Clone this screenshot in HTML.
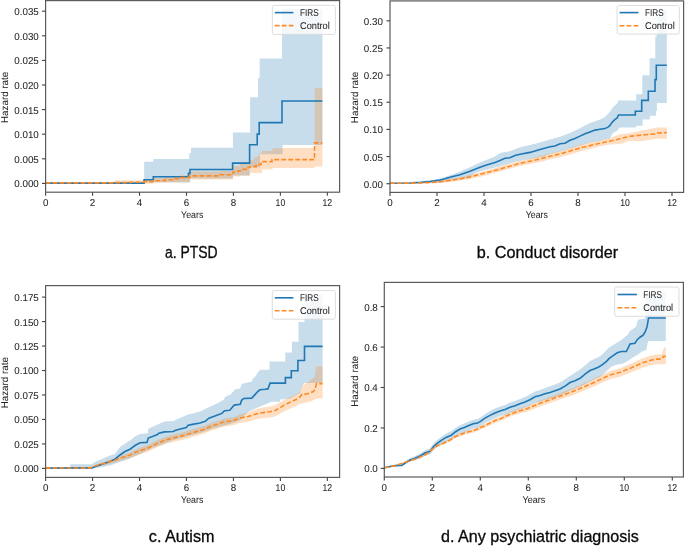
<!DOCTYPE html><html><head><meta charset="utf-8"><style>
html,body{margin:0;padding:0;background:#fff;width:685px;height:546px;overflow:hidden}
svg{display:block;filter:blur(0.35px)} .tk{font-family:"Liberation Sans", sans-serif;font-size:9.85px;text-rendering:geometricPrecision;fill:#262626;stroke:#262626;stroke-width:0.05px} .cap{font-family:"Liberation Sans", sans-serif;font-size:16.1px;fill:#0a0a0a;stroke:#0a0a0a;stroke-width:0.3px}
</style></head><body>
<svg width="685" height="546" viewBox="0 0 685 546">
<rect width="685" height="546" fill="#fff"/>
<clipPath id="ca"><rect x="45.60" y="0.60" width="294.00" height="191.60"/></clipPath>
<g clip-path="url(#ca)">
<path d="M144.1,183 V161.8 H153.3 V159.1 H189.2 V153.3 H191 V147.8 H232.9 V132.6 H250.1 V97.2 H258 V78 H259.6 V58.4 H282 V9.0 H322.4 V145 H282.6 V154.3 H260 V167.5 H249.6 V175.4 H233 V178.5 H190 V182.3 H144.1 Z" fill="#1f77b4" fill-opacity="0.25"/>
<path d="M114.7,183.6 V180.3 H144 V179.8 H153 V178 H165 V177 H180 V175.4 H190 V171.6 H220 V170.7 H233 V166.1 H240 V162 H249.6 V160.2 H253.7 V157.5 H257.4 V155.6 H259.7 V152.9 H262 V151 H272.5 V148.3 H282.6 V147.9 H314.7 V88 H322.3 V166.4 H314.7 V168 H272.5 V169.4 H262 V173 H250 V175.8 H240 V176.6 H233 V179.4 H190 V182.4 H153 V183.7 H114.7 Z" fill="#ff7f0e" fill-opacity="0.25"/>
<path d="M45.6,183.1 H144.1 V179.8 H153.3 V176.7 H188.5 V173.4 H190 V169.5 H232.6 V163.1 H249.6 V144.7 H257.2 V134.1 H259.2 V122.6 H282 V101 H322.4" fill="none" stroke="#1f77b4" stroke-width="1.6"/>
<path d="M45.6,182.9 H114.7 V182.6 H130 V182.2 H144 V181.6 H153 V180.7 H165 V179.8 H175 V178.6 H180 V177.6 H188.5 V177.1 H190 V175.9 H220 V174.8 H233 V172 H238 V170.8 H243 V169.4 H248 V167.5 H250 V166.6 H256 V165.6 H258 V164.6 H261 V162 H263 V161.6 H272 V159.6 H314.5 V142.9 H322.3" fill="none" stroke="#ff8a24" stroke-width="1.6" stroke-dasharray="4.8 2.2"/>
</g>
<rect x="45.60" y="0.60" width="294.00" height="191.60" fill="none" stroke="#5a5a5a" stroke-width="1.2"/>
<line x1="42.00" y1="183.40" x2="45.60" y2="183.40" stroke="#4a4a4a" stroke-width="1.15"/>
<text transform="translate(38.80,187.35) scale(0.995,1)" class="tk" text-anchor="end">0.000</text>
<line x1="42.00" y1="158.80" x2="45.60" y2="158.80" stroke="#4a4a4a" stroke-width="1.15"/>
<text transform="translate(38.80,162.75) scale(0.995,1)" class="tk" text-anchor="end">0.005</text>
<line x1="42.00" y1="134.20" x2="45.60" y2="134.20" stroke="#4a4a4a" stroke-width="1.15"/>
<text transform="translate(38.80,138.15) scale(0.995,1)" class="tk" text-anchor="end">0.010</text>
<line x1="42.00" y1="109.60" x2="45.60" y2="109.60" stroke="#4a4a4a" stroke-width="1.15"/>
<text transform="translate(38.80,113.55) scale(0.995,1)" class="tk" text-anchor="end">0.015</text>
<line x1="42.00" y1="85.00" x2="45.60" y2="85.00" stroke="#4a4a4a" stroke-width="1.15"/>
<text transform="translate(38.80,88.95) scale(0.995,1)" class="tk" text-anchor="end">0.020</text>
<line x1="42.00" y1="60.40" x2="45.60" y2="60.40" stroke="#4a4a4a" stroke-width="1.15"/>
<text transform="translate(38.80,64.35) scale(0.995,1)" class="tk" text-anchor="end">0.025</text>
<line x1="42.00" y1="35.80" x2="45.60" y2="35.80" stroke="#4a4a4a" stroke-width="1.15"/>
<text transform="translate(38.80,39.75) scale(0.995,1)" class="tk" text-anchor="end">0.030</text>
<line x1="42.00" y1="11.20" x2="45.60" y2="11.20" stroke="#4a4a4a" stroke-width="1.15"/>
<text transform="translate(38.80,15.15) scale(0.995,1)" class="tk" text-anchor="end">0.035</text>
<line x1="45.60" y1="192.20" x2="45.60" y2="195.80" stroke="#4a4a4a" stroke-width="1.15"/>
<text transform="translate(45.60,206.30) scale(0.995,1)" class="tk" text-anchor="middle">0</text>
<line x1="92.56" y1="192.20" x2="92.56" y2="195.80" stroke="#4a4a4a" stroke-width="1.15"/>
<text transform="translate(92.56,206.30) scale(0.995,1)" class="tk" text-anchor="middle">2</text>
<line x1="139.52" y1="192.20" x2="139.52" y2="195.80" stroke="#4a4a4a" stroke-width="1.15"/>
<text transform="translate(139.52,206.30) scale(0.995,1)" class="tk" text-anchor="middle">4</text>
<line x1="186.48" y1="192.20" x2="186.48" y2="195.80" stroke="#4a4a4a" stroke-width="1.15"/>
<text transform="translate(186.48,206.30) scale(0.995,1)" class="tk" text-anchor="middle">6</text>
<line x1="233.44" y1="192.20" x2="233.44" y2="195.80" stroke="#4a4a4a" stroke-width="1.15"/>
<text transform="translate(233.44,206.30) scale(0.995,1)" class="tk" text-anchor="middle">8</text>
<line x1="280.40" y1="192.20" x2="280.40" y2="195.80" stroke="#4a4a4a" stroke-width="1.15"/>
<text transform="translate(280.40,206.30) scale(0.88,1)" class="tk" text-anchor="middle">10</text>
<line x1="327.36" y1="192.20" x2="327.36" y2="195.80" stroke="#4a4a4a" stroke-width="1.15"/>
<text transform="translate(327.36,206.30) scale(0.88,1)" class="tk" text-anchor="middle">12</text>
<text x="192.20" y="218.00" class="tk" text-anchor="middle" textLength="22.20" lengthAdjust="spacingAndGlyphs">Years</text>
<text transform="translate(8.40,97.40) rotate(-90)" text-anchor="middle" class="tk" textLength="51.30" lengthAdjust="spacingAndGlyphs">Hazard rate</text>
<rect x="272.40" y="5.40" width="63.00" height="29.00" rx="2" ry="2" fill="#ffffff" fill-opacity="0.8" stroke="#d9d9d9" stroke-width="0.9"/>
<line x1="274.80" y1="12.60" x2="293.40" y2="12.60" stroke="#1f77b4" stroke-width="1.6"/>
<line x1="274.80" y1="25.60" x2="293.40" y2="25.60" stroke="#ff8a24" stroke-width="1.6" stroke-dasharray="4.8 2.2"/>
<text x="300.00" y="15.70" class="tk" textLength="18.60" lengthAdjust="spacingAndGlyphs">FIRS</text>
<text x="300.00" y="28.80" class="tk" textLength="29.80" lengthAdjust="spacingAndGlyphs">Control</text>
<clipPath id="cb"><rect x="390.00" y="0.90" width="293.60" height="191.50"/></clipPath>
<g clip-path="url(#cb)">
<path d="M413.0,183.3 L413.0,181.3 L430.0,180.2 L440.0,178.4 L450.0,175.3 L460.0,171.5 L470.0,167.2 L475.0,164.7 L480.0,162.6 L485.0,160.6 L495.0,156.5 L500.0,153.0 L510.0,151.3 L520.0,147.2 L530.0,144.9 L540.0,142.5 L550.0,139.6 L560.0,136.7 L570.0,133.1 L580.0,128.3 L590.0,123.0 L600.0,119.4 L605.0,117.0 L610.0,111.7 L613.0,106.9 L617.0,103.9 L618.5,100.4 L636.2,100.4 L636.2,94.3 L642.3,94.3 L642.3,75.2 L649.5,75.2 L649.5,58.3 L655.3,58.3 L655.3,36.4 L656.7,36.4 L656.7,9.6 L666.8,9.6 L666.8,103.0 L656.9,103.0 L656.9,110.9 L656.0,110.9 L656.0,115.7 L649.9,115.7 L649.9,119.6 L642.6,119.6 L642.6,125.7 L636.2,125.7 L636.2,127.4 L620.0,127.4 L618.5,128.9 L617.0,130.7 L613.0,133.1 L610.0,137.9 L600.0,140.8 L590.0,142.6 L580.0,145.6 L570.0,148.6 L560.0,151.5 L550.0,153.9 L545.0,156.0 L535.0,158.3 L525.0,159.8 L515.0,161.8 L505.0,164.7 L495.0,167.6 L485.0,170.0 L475.0,172.9 L470.0,177.5 L460.0,179.2 L450.0,180.4 L440.0,182.8 L413.0,183.4 Z" fill="#1f77b4" fill-opacity="0.25"/>
<path d="M420.0,183.3 L440.0,180.6 L450.0,179.0 L460.0,177.2 L470.0,175.0 L480.0,172.2 L490.0,169.4 L500.0,166.6 L510.0,163.6 L520.0,160.7 L530.0,158.5 L540.0,156.0 L550.0,153.6 L560.0,151.0 L570.0,148.0 L580.0,144.8 L590.0,142.3 L600.0,140.4 L610.0,137.7 L620.0,134.3 L630.0,133.1 L640.0,130.9 L657.0,127.4 L666.8,127.4 L666.8,138.7 L657.0,138.7 L640.0,141.3 L630.0,140.8 L620.0,143.9 L610.0,144.5 L600.0,146.2 L590.0,149.0 L580.0,151.4 L570.0,154.4 L560.0,157.2 L550.0,159.4 L540.0,161.9 L530.0,164.1 L520.0,165.9 L510.0,168.7 L500.0,171.5 L490.0,174.3 L480.0,176.8 L470.0,179.1 L460.0,180.7 L450.0,181.9 L440.0,182.9 L420.0,183.5 Z" fill="#ff7f0e" fill-opacity="0.25"/>
<path d="M390.0,183.3 L410.0,183.0 L420.0,182.5 L430.0,181.5 L440.0,180.0 L445.0,178.8 L450.0,177.2 L455.0,176.0 L460.0,174.8 L465.0,173.0 L470.0,171.2 L475.0,169.2 L480.0,167.2 L485.0,165.4 L490.0,164.0 L495.0,162.5 L500.0,160.6 L505.0,158.3 L510.0,157.7 L515.0,155.6 L520.0,154.2 L530.0,152.4 L540.0,149.5 L550.0,146.8 L555.0,146.0 L560.0,143.8 L565.0,143.2 L570.0,140.2 L575.0,138.5 L580.0,136.1 L585.0,133.7 L590.0,131.9 L595.0,130.1 L600.0,129.3 L605.0,128.6 L608.0,127.1 L610.0,125.4 L612.0,122.4 L615.0,119.4 L617.0,118.2 L618.5,115.0 L635.3,115.0 L635.3,111.2 L641.7,111.2 L641.7,100.4 L648.3,100.4 L648.3,91.2 L655.0,91.2 L655.0,79.6 L656.3,79.6 L656.3,65.3 L666.8,65.3" fill="none" stroke="#1f77b4" stroke-width="1.6"/>
<path d="M390.0,183.3 L420.0,183.0 L430.0,182.5 L440.0,181.7 L450.0,180.4 L460.0,178.9 L470.0,177.0 L480.0,174.4 L490.0,171.8 L500.0,169.0 L510.0,166.2 L520.0,163.3 L530.0,161.2 L540.0,158.9 L550.0,156.3 L560.0,153.9 L570.0,151.0 L580.0,148.0 L590.0,145.6 L600.0,143.2 L610.0,141.2 L620.0,138.7 L630.0,136.3 L640.0,135.2 L650.0,134.3 L655.0,134.0 L656.0,133.1 L666.8,132.6" fill="none" stroke="#ff8a24" stroke-width="1.6" stroke-dasharray="4.8 2.2"/>
</g>
<rect x="390.00" y="0.90" width="293.60" height="191.50" fill="none" stroke="#5a5a5a" stroke-width="1.2"/>
<line x1="386.40" y1="183.70" x2="390.00" y2="183.70" stroke="#4a4a4a" stroke-width="1.15"/>
<text transform="translate(382.90,187.65) scale(0.995,1)" class="tk" text-anchor="end">0.00</text>
<line x1="386.40" y1="156.55" x2="390.00" y2="156.55" stroke="#4a4a4a" stroke-width="1.15"/>
<text transform="translate(382.90,160.50) scale(0.995,1)" class="tk" text-anchor="end">0.05</text>
<line x1="386.40" y1="129.40" x2="390.00" y2="129.40" stroke="#4a4a4a" stroke-width="1.15"/>
<text transform="translate(382.90,133.35) scale(0.995,1)" class="tk" text-anchor="end">0.10</text>
<line x1="386.40" y1="102.25" x2="390.00" y2="102.25" stroke="#4a4a4a" stroke-width="1.15"/>
<text transform="translate(382.90,106.20) scale(0.995,1)" class="tk" text-anchor="end">0.15</text>
<line x1="386.40" y1="75.10" x2="390.00" y2="75.10" stroke="#4a4a4a" stroke-width="1.15"/>
<text transform="translate(382.90,79.05) scale(0.995,1)" class="tk" text-anchor="end">0.20</text>
<line x1="386.40" y1="47.95" x2="390.00" y2="47.95" stroke="#4a4a4a" stroke-width="1.15"/>
<text transform="translate(382.90,51.90) scale(0.995,1)" class="tk" text-anchor="end">0.25</text>
<line x1="386.40" y1="20.80" x2="390.00" y2="20.80" stroke="#4a4a4a" stroke-width="1.15"/>
<text transform="translate(382.90,24.75) scale(0.995,1)" class="tk" text-anchor="end">0.30</text>
<line x1="390.00" y1="192.40" x2="390.00" y2="196.00" stroke="#4a4a4a" stroke-width="1.15"/>
<text transform="translate(390.00,206.30) scale(0.995,1)" class="tk" text-anchor="middle">0</text>
<line x1="437.00" y1="192.40" x2="437.00" y2="196.00" stroke="#4a4a4a" stroke-width="1.15"/>
<text transform="translate(437.00,206.30) scale(0.995,1)" class="tk" text-anchor="middle">2</text>
<line x1="484.00" y1="192.40" x2="484.00" y2="196.00" stroke="#4a4a4a" stroke-width="1.15"/>
<text transform="translate(484.00,206.30) scale(0.995,1)" class="tk" text-anchor="middle">4</text>
<line x1="531.00" y1="192.40" x2="531.00" y2="196.00" stroke="#4a4a4a" stroke-width="1.15"/>
<text transform="translate(531.00,206.30) scale(0.995,1)" class="tk" text-anchor="middle">6</text>
<line x1="578.00" y1="192.40" x2="578.00" y2="196.00" stroke="#4a4a4a" stroke-width="1.15"/>
<text transform="translate(578.00,206.30) scale(0.995,1)" class="tk" text-anchor="middle">8</text>
<line x1="625.00" y1="192.40" x2="625.00" y2="196.00" stroke="#4a4a4a" stroke-width="1.15"/>
<text transform="translate(625.00,206.30) scale(0.88,1)" class="tk" text-anchor="middle">10</text>
<line x1="672.00" y1="192.40" x2="672.00" y2="196.00" stroke="#4a4a4a" stroke-width="1.15"/>
<text transform="translate(672.00,206.30) scale(0.88,1)" class="tk" text-anchor="middle">12</text>
<text x="536.80" y="218.30" class="tk" text-anchor="middle" textLength="22.20" lengthAdjust="spacingAndGlyphs">Years</text>
<text transform="translate(357.90,97.50) rotate(-90)" text-anchor="middle" class="tk" textLength="51.30" lengthAdjust="spacingAndGlyphs">Hazard rate</text>
<rect x="617.10" y="5.50" width="62.30" height="28.60" rx="2" ry="2" fill="#ffffff" fill-opacity="0.8" stroke="#d9d9d9" stroke-width="0.9"/>
<line x1="619.60" y1="12.60" x2="638.40" y2="12.60" stroke="#1f77b4" stroke-width="1.6"/>
<line x1="619.60" y1="25.70" x2="638.40" y2="25.70" stroke="#ff8a24" stroke-width="1.6" stroke-dasharray="4.8 2.2"/>
<text x="645.00" y="15.70" class="tk" textLength="18.60" lengthAdjust="spacingAndGlyphs">FIRS</text>
<text x="645.00" y="28.90" class="tk" textLength="29.80" lengthAdjust="spacingAndGlyphs">Control</text>
<clipPath id="cc"><rect x="45.60" y="285.60" width="294.00" height="191.80"/></clipPath>
<g clip-path="url(#cc)">
<path d="M70.3,468.2 L70.3,464.2 L91.5,464.2 L95.0,462.0 L100.0,459.7 L105.0,457.4 L110.0,455.6 L115.0,453.9 L120.0,446.9 L125.0,443.4 L130.0,440.4 L135.0,436.5 L140.0,434.1 L147.9,433.2 L148.3,428.8 L157.5,424.4 L164.5,421.4 L174.2,420.9 L175.0,420.0 L188.2,414.4 L192.5,413.5 L200.0,411.5 L208.8,407.3 L217.5,403.3 L223.6,399.8 L225.4,396.8 L230.6,394.5 L235.0,389.5 L240.0,388.4 L242.0,383.7 L252.0,381.4 L252.5,379.0 L255.0,376.7 L257.0,373.8 L260.0,369.8 L269.5,369.8 L269.5,361.6 L285.2,361.6 L285.2,352.5 L292.0,352.5 L292.0,341.8 L298.5,341.8 L298.5,322.1 L304.5,322.1 L304.5,294.9 L322.6,294.9 L322.6,383.0 L304.5,383.0 L302.0,386.0 L300.0,393.0 L290.0,398.5 L280.0,399.5 L280.0,401.8 L271.0,401.8 L270.0,402.4 L260.0,406.5 L250.0,411.0 L245.0,414.5 L240.0,420.5 L230.0,424.0 L215.0,428.0 L200.0,433.0 L175.0,439.5 L150.0,449.0 L140.0,454.0 L130.0,458.5 L120.0,462.0 L110.0,465.5 L100.0,467.3 L92.0,468.4 L70.3,468.4 Z" fill="#1f77b4" fill-opacity="0.25"/>
<path d="M90.0,467.7 L95.0,465.2 L100.0,462.9 L105.0,461.5 L110.0,459.6 L115.0,458.2 L120.0,455.7 L125.0,454.3 L130.0,452.4 L135.0,449.8 L140.0,447.7 L148.8,444.6 L157.5,440.1 L166.3,436.5 L175.0,434.2 L183.8,431.9 L192.5,429.3 L200.0,427.1 L204.4,425.8 L208.8,423.8 L213.1,422.2 L217.5,420.9 L221.9,419.3 L226.3,418.1 L230.6,417.8 L235.0,416.7 L239.4,414.6 L243.8,413.4 L248.2,412.4 L252.5,410.7 L256.9,409.1 L260.0,408.1 L265.0,407.3 L270.0,406.5 L275.0,405.1 L280.0,402.3 L283.0,400.5 L285.0,399.3 L290.0,397.1 L296.0,394.4 L300.0,391.8 L302.0,389.3 L300.0,391.8 L302.0,385.8 L306.0,383.6 L315.0,376.5 L316.0,366.4 L322.6,366.4 L322.6,398.4 L317.0,398.4 L315.0,399.5 L310.0,401.7 L300.0,404.0 L302.0,401.3 L300.0,403.8 L296.0,406.3 L290.0,408.8 L285.0,410.9 L283.0,412.0 L280.0,413.8 L275.0,416.4 L270.0,417.5 L265.0,418.1 L260.0,418.6 L256.9,419.3 L252.5,420.5 L248.2,421.7 L243.8,422.4 L239.4,423.1 L235.0,424.8 L230.6,425.8 L226.3,426.1 L221.9,427.2 L217.5,428.8 L213.1,430.1 L208.8,431.6 L204.4,433.6 L200.0,434.8 L192.5,437.0 L183.8,439.5 L175.0,441.6 L166.3,443.7 L157.5,447.1 L148.8,451.4 L140.0,454.3 L135.0,456.0 L130.0,458.1 L125.0,459.7 L120.0,460.6 L115.0,462.6 L110.0,463.6 L105.0,465.0 L100.0,465.9 L95.0,467.1 L90.0,468.3 Z" fill="#ff7f0e" fill-opacity="0.25"/>
<path d="M45.6,468.1 L92.0,467.9 L95.0,466.7 L100.0,465.0 L105.0,463.2 L110.0,461.5 L115.0,459.1 L120.0,455.0 L125.0,451.5 L130.0,449.2 L135.0,445.5 L140.0,442.8 L147.0,442.4 L148.3,438.0 L153.1,436.3 L157.5,434.5 L158.8,433.2 L164.5,431.9 L173.3,431.5 L175.0,430.6 L179.4,429.3 L186.4,427.5 L188.2,425.3 L192.5,424.4 L200.0,423.0 L205.3,421.3 L208.8,418.2 L212.3,416.9 L217.5,415.1 L221.9,413.4 L224.5,410.8 L229.8,410.3 L234.2,405.1 L240.3,404.2 L241.6,400.3 L243.8,398.5 L251.7,398.1 L254.3,395.4 L258.0,391.3 L260.0,389.8 L265.0,389.3 L268.0,388.9 L269.0,386.0 L270.1,383.1 L285.4,383.1 L285.4,377.6 L291.3,377.6 L291.3,370.7 L297.9,370.7 L297.9,360.5 L304.5,360.5 L304.5,346.4 L322.6,346.4" fill="none" stroke="#1f77b4" stroke-width="1.6"/>
<path d="M45.6,468.1 L90.0,467.9 L95.0,466.1 L100.0,464.4 L105.0,463.2 L110.0,461.5 L115.0,460.3 L120.0,458.0 L125.0,456.8 L130.0,455.0 L135.0,452.6 L140.0,450.7 L148.8,447.7 L157.5,443.3 L166.3,439.8 L175.0,437.6 L183.8,435.4 L192.5,432.8 L200.0,430.5 L204.4,429.2 L208.8,427.2 L213.1,425.6 L217.5,424.3 L221.9,422.6 L226.3,421.4 L230.6,421.1 L235.0,420.0 L239.4,418.2 L243.8,417.3 L248.2,416.5 L252.5,415.1 L256.9,413.8 L260.0,413.0 L265.0,412.4 L270.0,411.7 L275.0,410.5 L280.0,407.8 L283.0,405.9 L285.0,404.7 L290.0,402.3 L296.0,399.5 L300.0,396.8 L302.0,394.3 L307.0,394.0 L310.0,392.7 L313.0,391.8 L315.0,389.6 L316.5,383.6 L322.6,383.6" fill="none" stroke="#ff8a24" stroke-width="1.6" stroke-dasharray="4.8 2.2"/>
</g>
<rect x="45.60" y="285.60" width="294.00" height="191.80" fill="none" stroke="#5a5a5a" stroke-width="1.2"/>
<line x1="42.00" y1="468.40" x2="45.60" y2="468.40" stroke="#4a4a4a" stroke-width="1.15"/>
<text transform="translate(38.80,472.35) scale(0.995,1)" class="tk" text-anchor="end">0.000</text>
<line x1="42.00" y1="443.93" x2="45.60" y2="443.93" stroke="#4a4a4a" stroke-width="1.15"/>
<text transform="translate(38.80,447.88) scale(0.995,1)" class="tk" text-anchor="end">0.025</text>
<line x1="42.00" y1="419.46" x2="45.60" y2="419.46" stroke="#4a4a4a" stroke-width="1.15"/>
<text transform="translate(38.80,423.41) scale(0.995,1)" class="tk" text-anchor="end">0.050</text>
<line x1="42.00" y1="394.99" x2="45.60" y2="394.99" stroke="#4a4a4a" stroke-width="1.15"/>
<text transform="translate(38.80,398.94) scale(0.995,1)" class="tk" text-anchor="end">0.075</text>
<line x1="42.00" y1="370.52" x2="45.60" y2="370.52" stroke="#4a4a4a" stroke-width="1.15"/>
<text transform="translate(38.80,374.47) scale(0.995,1)" class="tk" text-anchor="end">0.100</text>
<line x1="42.00" y1="346.05" x2="45.60" y2="346.05" stroke="#4a4a4a" stroke-width="1.15"/>
<text transform="translate(38.80,350.00) scale(0.995,1)" class="tk" text-anchor="end">0.125</text>
<line x1="42.00" y1="321.58" x2="45.60" y2="321.58" stroke="#4a4a4a" stroke-width="1.15"/>
<text transform="translate(38.80,325.53) scale(0.995,1)" class="tk" text-anchor="end">0.150</text>
<line x1="42.00" y1="297.11" x2="45.60" y2="297.11" stroke="#4a4a4a" stroke-width="1.15"/>
<text transform="translate(38.80,301.06) scale(0.995,1)" class="tk" text-anchor="end">0.175</text>
<line x1="45.60" y1="477.40" x2="45.60" y2="481.00" stroke="#4a4a4a" stroke-width="1.15"/>
<text transform="translate(45.60,491.30) scale(0.995,1)" class="tk" text-anchor="middle">0</text>
<line x1="92.56" y1="477.40" x2="92.56" y2="481.00" stroke="#4a4a4a" stroke-width="1.15"/>
<text transform="translate(92.56,491.30) scale(0.995,1)" class="tk" text-anchor="middle">2</text>
<line x1="139.52" y1="477.40" x2="139.52" y2="481.00" stroke="#4a4a4a" stroke-width="1.15"/>
<text transform="translate(139.52,491.30) scale(0.995,1)" class="tk" text-anchor="middle">4</text>
<line x1="186.48" y1="477.40" x2="186.48" y2="481.00" stroke="#4a4a4a" stroke-width="1.15"/>
<text transform="translate(186.48,491.30) scale(0.995,1)" class="tk" text-anchor="middle">6</text>
<line x1="233.44" y1="477.40" x2="233.44" y2="481.00" stroke="#4a4a4a" stroke-width="1.15"/>
<text transform="translate(233.44,491.30) scale(0.995,1)" class="tk" text-anchor="middle">8</text>
<line x1="280.40" y1="477.40" x2="280.40" y2="481.00" stroke="#4a4a4a" stroke-width="1.15"/>
<text transform="translate(280.40,491.30) scale(0.88,1)" class="tk" text-anchor="middle">10</text>
<line x1="327.36" y1="477.40" x2="327.36" y2="481.00" stroke="#4a4a4a" stroke-width="1.15"/>
<text transform="translate(327.36,491.30) scale(0.88,1)" class="tk" text-anchor="middle">12</text>
<text x="192.20" y="503.00" class="tk" text-anchor="middle" textLength="22.20" lengthAdjust="spacingAndGlyphs">Years</text>
<text transform="translate(8.40,382.70) rotate(-90)" text-anchor="middle" class="tk" textLength="51.30" lengthAdjust="spacingAndGlyphs">Hazard rate</text>
<rect x="272.30" y="290.60" width="63.10" height="28.60" rx="2" ry="2" fill="#ffffff" fill-opacity="0.8" stroke="#d9d9d9" stroke-width="0.9"/>
<line x1="274.80" y1="297.80" x2="293.40" y2="297.80" stroke="#1f77b4" stroke-width="1.6"/>
<line x1="274.80" y1="310.80" x2="293.40" y2="310.80" stroke="#ff8a24" stroke-width="1.6" stroke-dasharray="4.8 2.2"/>
<text x="300.00" y="300.90" class="tk" textLength="18.60" lengthAdjust="spacingAndGlyphs">FIRS</text>
<text x="300.00" y="314.00" class="tk" textLength="29.80" lengthAdjust="spacingAndGlyphs">Control</text>
<clipPath id="cd"><rect x="384.30" y="282.40" width="299.10" height="194.60"/></clipPath>
<g clip-path="url(#cd)">
<path d="M384.3,467.5 L390.0,465.9 L395.0,464.7 L402.0,464.0 L405.0,461.5 L410.0,458.2 L415.0,456.1 L420.0,453.5 L425.0,450.2 L430.0,448.2 L432.0,445.6 L433.8,442.9 L438.1,439.2 L442.5,435.9 L446.0,433.6 L451.3,431.3 L455.6,427.8 L460.0,425.2 L464.4,423.6 L468.8,421.6 L473.2,419.7 L477.5,418.9 L480.2,417.4 L485.0,413.9 L490.0,411.1 L495.0,408.6 L500.0,406.4 L505.0,405.0 L510.0,402.6 L515.0,401.1 L520.0,398.9 L525.0,396.9 L530.0,394.6 L535.0,391.4 L540.0,390.0 L545.0,388.0 L550.0,386.3 L555.0,384.5 L560.0,382.5 L570.0,376.0 L580.0,369.5 L585.0,365.5 L590.0,361.0 L598.2,357.3 L602.4,354.4 L606.5,349.9 L609.0,347.8 L613.1,345.0 L617.2,342.5 L621.3,340.0 L628.0,334.4 L630.0,330.8 L636.0,327.1 L638.0,319.8 L645.0,318.5 L646.0,292.0 L665.8,292.0 L665.8,341.0 L648.0,341.0 L646.4,349.8 L642.0,351.4 L637.6,354.7 L631.0,358.5 L627.0,361.5 L623.0,363.5 L618.9,364.3 L614.7,365.2 L610.6,367.2 L606.5,371.3 L600.0,377.0 L590.0,381.5 L580.0,386.7 L570.0,390.8 L560.0,395.6 L555.0,397.4 L550.0,398.8 L545.0,400.1 L540.0,401.7 L535.0,402.8 L530.0,405.6 L525.0,407.6 L520.0,409.2 L515.0,411.2 L510.0,412.6 L505.0,414.8 L500.0,416.1 L495.0,418.1 L490.0,420.5 L485.0,423.1 L480.2,426.5 L477.5,427.9 L473.2,428.6 L468.8,430.3 L464.4,432.2 L460.0,433.7 L455.6,436.2 L451.3,439.6 L446.0,441.7 L442.5,443.7 L438.1,446.6 L433.8,449.8 L432.0,452.3 L430.0,454.6 L425.0,455.9 L420.0,458.5 L415.0,460.5 L410.0,461.8 L405.0,464.5 L402.0,466.6 L395.0,466.6 L390.0,467.2 L384.3,468.2 Z" fill="#1f77b4" fill-opacity="0.25"/>
<path d="M384.3,467.4 L395.0,465.3 L400.0,463.5 L405.0,461.7 L410.0,459.8 L415.0,458.0 L420.0,456.1 L425.0,453.8 L430.0,450.4 L433.8,446.7 L438.1,444.0 L442.5,442.2 L446.9,440.4 L451.3,437.7 L455.6,435.0 L460.0,433.2 L464.4,431.3 L468.8,430.0 L473.2,429.0 L477.5,427.2 L481.9,425.0 L485.0,423.6 L490.0,420.9 L495.0,418.4 L500.0,416.7 L505.0,414.2 L510.0,411.8 L515.0,409.9 L520.0,408.1 L525.0,406.9 L530.0,404.8 L540.0,400.4 L550.0,396.8 L560.0,393.0 L570.0,389.3 L580.0,385.0 L590.0,380.6 L600.0,375.8 L610.0,371.0 L620.0,368.2 L631.0,363.6 L642.0,358.5 L650.8,355.6 L656.3,354.4 L661.8,354.3 L664.0,347.2 L665.8,347.2 L665.8,363.7 L661.8,364.3 L656.3,364.2 L650.8,365.2 L642.0,367.9 L631.0,372.6 L620.0,376.8 L610.0,379.3 L600.0,383.7 L590.0,388.3 L580.0,392.3 L570.0,396.2 L560.0,399.6 L550.0,403.1 L540.0,406.4 L530.0,410.4 L525.0,412.3 L520.0,413.4 L515.0,415.1 L510.0,416.8 L505.0,419.0 L500.0,421.3 L495.0,422.9 L490.0,425.2 L485.0,427.7 L481.9,429.0 L477.5,431.1 L473.2,432.7 L468.8,433.6 L464.4,434.8 L460.0,436.5 L455.6,438.1 L451.3,440.8 L446.9,443.3 L442.5,444.9 L438.1,446.6 L433.8,449.2 L430.0,452.7 L425.0,455.9 L420.0,458.1 L415.0,459.8 L410.0,461.4 L405.0,463.2 L400.0,464.8 L395.0,466.5 L384.3,468.2 Z" fill="#ff7f0e" fill-opacity="0.25"/>
<path d="M384.3,467.8 L390.0,466.5 L395.0,465.6 L402.0,465.3 L405.0,463.0 L410.0,460.0 L415.0,458.3 L420.0,456.0 L425.0,453.0 L430.0,451.3 L432.0,448.8 L433.8,446.2 L438.1,442.7 L442.5,439.6 L446.0,437.4 L451.3,435.2 L455.6,431.7 L460.0,429.1 L464.4,427.6 L468.8,425.6 L473.2,423.8 L477.5,423.0 L480.2,421.6 L485.0,418.1 L490.0,415.4 L495.0,413.0 L500.0,410.9 L505.0,409.5 L510.0,407.2 L515.0,405.8 L520.0,403.7 L525.0,401.9 L530.0,399.8 L535.0,396.8 L540.0,395.6 L545.0,393.8 L550.0,392.4 L555.0,390.8 L560.0,389.0 L565.0,386.1 L570.0,382.5 L575.0,380.7 L580.0,378.3 L583.0,376.0 L585.0,374.2 L590.0,370.5 L594.1,368.9 L598.2,367.2 L602.4,364.7 L606.5,361.4 L609.0,358.6 L613.1,355.7 L617.2,352.8 L621.3,351.5 L626.3,351.5 L628.8,346.6 L630.0,344.0 L635.0,343.2 L637.0,339.9 L640.0,337.2 L643.0,335.3 L645.0,332.2 L647.0,327.1 L648.5,318.0 L665.8,318.0" fill="none" stroke="#1f77b4" stroke-width="1.6"/>
<path d="M384.3,467.8 L395.0,465.9 L400.0,464.1 L405.0,462.4 L410.0,460.6 L415.0,458.9 L420.0,457.1 L425.0,454.8 L430.0,451.5 L433.8,447.9 L438.1,445.3 L442.5,443.5 L446.9,441.8 L451.3,439.2 L455.6,436.5 L460.0,434.8 L464.4,433.0 L468.8,431.7 L473.2,430.8 L477.5,429.1 L481.9,426.9 L485.0,425.6 L490.0,423.0 L495.0,420.6 L500.0,418.9 L505.0,416.5 L510.0,414.2 L515.0,412.4 L520.0,410.7 L525.0,409.5 L530.0,407.5 L540.0,403.3 L550.0,399.8 L560.0,396.2 L570.0,392.6 L580.0,388.5 L590.0,384.3 L600.0,379.6 L610.0,375.0 L620.0,372.3 L631.0,367.9 L642.0,363.0 L650.8,360.2 L656.3,359.1 L661.8,359.1 L663.4,356.4 L665.8,356.4" fill="none" stroke="#ff8a24" stroke-width="1.6" stroke-dasharray="4.8 2.2"/>
</g>
<rect x="384.30" y="282.40" width="299.10" height="194.60" fill="none" stroke="#5a5a5a" stroke-width="1.2"/>
<line x1="380.70" y1="468.40" x2="384.30" y2="468.40" stroke="#4a4a4a" stroke-width="1.15"/>
<text transform="translate(377.80,472.35) scale(0.995,1)" class="tk" text-anchor="end">0.0</text>
<line x1="380.70" y1="427.95" x2="384.30" y2="427.95" stroke="#4a4a4a" stroke-width="1.15"/>
<text transform="translate(377.80,431.90) scale(0.995,1)" class="tk" text-anchor="end">0.2</text>
<line x1="380.70" y1="387.50" x2="384.30" y2="387.50" stroke="#4a4a4a" stroke-width="1.15"/>
<text transform="translate(377.80,391.45) scale(0.995,1)" class="tk" text-anchor="end">0.4</text>
<line x1="380.70" y1="347.05" x2="384.30" y2="347.05" stroke="#4a4a4a" stroke-width="1.15"/>
<text transform="translate(377.80,351.00) scale(0.995,1)" class="tk" text-anchor="end">0.6</text>
<line x1="380.70" y1="306.60" x2="384.30" y2="306.60" stroke="#4a4a4a" stroke-width="1.15"/>
<text transform="translate(377.80,310.55) scale(0.995,1)" class="tk" text-anchor="end">0.8</text>
<line x1="384.30" y1="477.00" x2="384.30" y2="480.60" stroke="#4a4a4a" stroke-width="1.15"/>
<text transform="translate(384.30,491.30) scale(0.995,1)" class="tk" text-anchor="middle">0</text>
<line x1="432.30" y1="477.00" x2="432.30" y2="480.60" stroke="#4a4a4a" stroke-width="1.15"/>
<text transform="translate(432.30,491.30) scale(0.995,1)" class="tk" text-anchor="middle">2</text>
<line x1="480.30" y1="477.00" x2="480.30" y2="480.60" stroke="#4a4a4a" stroke-width="1.15"/>
<text transform="translate(480.30,491.30) scale(0.995,1)" class="tk" text-anchor="middle">4</text>
<line x1="528.30" y1="477.00" x2="528.30" y2="480.60" stroke="#4a4a4a" stroke-width="1.15"/>
<text transform="translate(528.30,491.30) scale(0.995,1)" class="tk" text-anchor="middle">6</text>
<line x1="576.30" y1="477.00" x2="576.30" y2="480.60" stroke="#4a4a4a" stroke-width="1.15"/>
<text transform="translate(576.30,491.30) scale(0.995,1)" class="tk" text-anchor="middle">8</text>
<line x1="624.30" y1="477.00" x2="624.30" y2="480.60" stroke="#4a4a4a" stroke-width="1.15"/>
<text transform="translate(624.30,491.30) scale(0.88,1)" class="tk" text-anchor="middle">10</text>
<line x1="672.30" y1="477.00" x2="672.30" y2="480.60" stroke="#4a4a4a" stroke-width="1.15"/>
<text transform="translate(672.30,491.30) scale(0.88,1)" class="tk" text-anchor="middle">12</text>
<text x="533.85" y="503.30" class="tk" text-anchor="middle" textLength="22.80" lengthAdjust="spacingAndGlyphs">Years</text>
<text transform="translate(357.90,381.20) rotate(-90)" text-anchor="middle" class="tk" textLength="51.00" lengthAdjust="spacingAndGlyphs">Hazard rate</text>
<rect x="614.70" y="287.00" width="64.30" height="29.30" rx="2" ry="2" fill="#ffffff" fill-opacity="0.8" stroke="#d9d9d9" stroke-width="0.9"/>
<line x1="617.50" y1="294.50" x2="636.90" y2="294.50" stroke="#1f77b4" stroke-width="1.6"/>
<line x1="617.50" y1="307.80" x2="636.90" y2="307.80" stroke="#ff8a24" stroke-width="1.6" stroke-dasharray="4.8 2.2"/>
<text x="643.30" y="297.60" class="tk" textLength="18.60" lengthAdjust="spacingAndGlyphs">FIRS</text>
<text x="643.30" y="311.00" class="tk" textLength="29.80" lengthAdjust="spacingAndGlyphs">Control</text>
<text x="164.90" y="257.60" class="cap" textLength="52.70" lengthAdjust="spacingAndGlyphs">a. PTSD</text>
<text x="476.80" y="257.60" class="cap" textLength="141.40" lengthAdjust="spacingAndGlyphs">b. Conduct disorder</text>
<text x="148.80" y="542.20" class="cap" textLength="65.70" lengthAdjust="spacingAndGlyphs">c. Autism</text>
<text x="441.10" y="542.20" class="cap" textLength="197.80" lengthAdjust="spacingAndGlyphs">d. Any psychiatric diagnosis</text>
</svg></body></html>
